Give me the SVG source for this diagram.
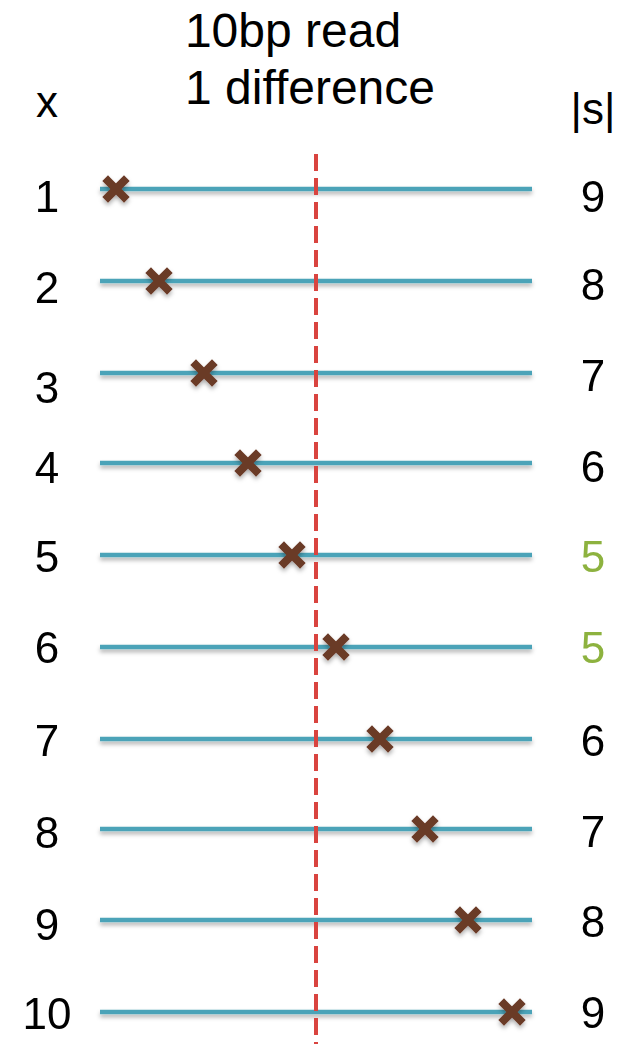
<svg xmlns="http://www.w3.org/2000/svg" width="627" height="1044" viewBox="0 0 627 1044">
<defs>
<filter id="sh" filterUnits="userSpaceOnUse" x="0" y="0" width="627" height="1044">
<feDropShadow dx="0" dy="3" stdDeviation="2" flood-color="#000" flood-opacity="0.3"/>
</filter>
<symbol id="xm" overflow="visible">
<path d="M-8,-8 L8,8 M8,-8 L-8,8" stroke="#6B3A26" stroke-width="8" stroke-linecap="square"/>
</symbol>
</defs>
<style>
.t{font-family:"Liberation Sans",Arial,sans-serif;font-size:44px;fill:#000;text-anchor:middle}
.h{font-size:48px}
.g{fill:#8DB23F}
.ln{stroke:#4BA3B8;stroke-width:4.5}
.dash{stroke:#D9443F;stroke-width:4;stroke-dasharray:17 7}
</style>
<g id="title">
<text class="t h" x="293" y="47">10bp read</text>
<text class="t h" x="310" y="104">1 difference</text>
<text class="t" x="47" y="117">x</text>
<text class="t" x="593" y="124">|s|</text>
</g>
<g id="connectors">
<g filter="url(#sh)">
<line class="ln" x1="100" y1="189" x2="532" y2="189"/>
<line class="ln" x1="100" y1="281" x2="532" y2="281"/>
<line class="ln" x1="100" y1="373" x2="532" y2="373"/>
<line class="ln" x1="100" y1="463" x2="532" y2="463"/>
<line class="ln" x1="100" y1="555" x2="532" y2="555"/>
<line class="ln" x1="100" y1="647" x2="532" y2="647"/>
<line class="ln" x1="100" y1="739" x2="532" y2="739"/>
<line class="ln" x1="100" y1="829" x2="532" y2="829"/>
<line class="ln" x1="100" y1="920" x2="532" y2="920"/>
<line class="ln" x1="100" y1="1012" x2="532" y2="1012"/>
</g>
<line class="dash" x1="316" y1="154" x2="316" y2="1044"/>
</g>
<g id="marks" filter="url(#sh)">
<use href="#xm" x="116" y="189"/>
<use href="#xm" x="159" y="281"/>
<use href="#xm" x="204" y="373"/>
<use href="#xm" x="248" y="463"/>
<use href="#xm" x="292" y="555"/>
<use href="#xm" x="336" y="647"/>
<use href="#xm" x="380" y="739"/>
<use href="#xm" x="425" y="829"/>
<use href="#xm" x="468" y="920"/>
<use href="#xm" x="512" y="1012"/>
</g>
<g id="xlabels">
<text class="t" x="47" y="212">1</text>
<text class="t" x="47" y="303">2</text>
<text class="t" x="47" y="403">3</text>
<text class="t" x="47" y="483">4</text>
<text class="t" x="47" y="572">5</text>
<text class="t" x="47" y="663">6</text>
<text class="t" x="47" y="756">7</text>
<text class="t" x="47" y="848">8</text>
<text class="t" x="47" y="940">9</text>
<text class="t" x="47" y="1029">10</text>
</g>
<g id="slabels">
<text class="t" x="593" y="212">9</text>
<text class="t" x="593" y="300">8</text>
<text class="t" x="593" y="391">7</text>
<text class="t" x="593" y="482">6</text>
<text class="t g" x="593" y="572">5</text>
<text class="t g" x="593" y="663">5</text>
<text class="t" x="593" y="756">6</text>
<text class="t" x="593" y="847">7</text>
<text class="t" x="593" y="937">8</text>
<text class="t" x="593" y="1028">9</text>
</g>
</svg>
